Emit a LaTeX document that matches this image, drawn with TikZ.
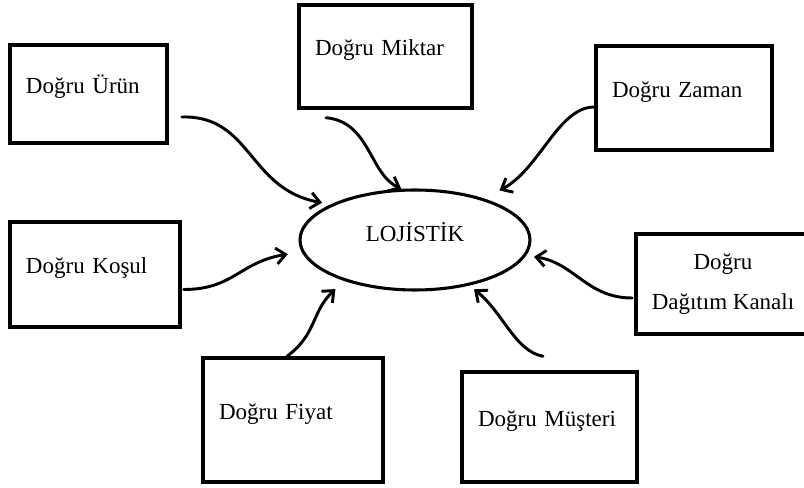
\documentclass[tikz,border=0pt]{standalone}
\usepackage{fontspec}
\setmainfont{Liberation Serif}
\usetikzlibrary{shapes.geometric, arrows.meta}

\begin{document}
\begin{tikzpicture}[x=0.75pt, y=-0.75pt, every node/.style={font=\fontsize{17.25}{21}\selectfont},
  kutu/.style={draw, line width=2.6pt, inner xsep=12pt},
  etiket/.style={kutu, align=left, text height=10pt, text depth=11pt},
  pil/.style={line width=2.2pt, line cap=round, -{Straight Barb[length=7pt,width=12pt]}}]
  \useasboundingbox (0,0) rectangle (804,488);
  \clip (0,0) rectangle (804,488);
  % Centre
  \node[ellipse, draw, line width=2.3pt, inner sep=0pt, minimum width=172.5pt, minimum height=75pt,
        text height=12pt, text depth=9pt] (lojistik) at (415,240) {LOJİSTİK};
  % Top row
  \node[etiket, minimum width=117.75pt, minimum height=73.5pt, text width=93.75pt] (urun) at (88.5,94) {Doğru~Ürün};
  \node[etiket, minimum width=129.75pt, minimum height=77.25pt, text width=105.75pt] (miktar) at (385.5,56.5) {Doğru~Miktar};
  \node[etiket, minimum width=132pt, minimum height=78pt, text width=108pt] (zaman) at (684,98) {Doğru~Zaman};
  % Middle row
  \node[etiket, minimum width=127.5pt, minimum height=78.75pt, text width=103.5pt] (kosul) at (95,274.5) {Doğru~Koşul};
  \node[kutu, align=center, minimum width=129pt, minimum height=75pt] (kanal) at (723,284) {Doğru\\[9pt]Dağıtım Kanalı};
  % Bottom row
  \node[etiket, minimum width=135pt, minimum height=93pt, text width=111pt] (fiyat) at (293,420) {Doğru~Fiyat};
  \node[etiket, minimum width=131.25pt, minimum height=82.5pt, text width=107.25pt] (musteri) at (549.5,427) {Doğru~Müşteri};
  % Arrows
  \draw[pil, shorten >=6.75pt] ([shift={(13,23)}]urun.east) .. controls +(70,-2) and +(-83,-15) .. (lojistik.157);
  \draw[pil] ([shift={(-59.5,8)}]miktar.south) .. controls +(44,4) and +(-32,-15) .. (lojistik.105);
  \draw[pil, shorten >=13pt] ([shift={(0,9)}]zaman.west) .. controls +(-36,0) and +(55.5,-29) .. (lojistik.31.5);
  \draw[pil, shorten >=10.5pt] ([shift={(2,15)}]kosul.east) .. controls +(50,0) and +(-62,10) .. (lojistik.186.5);
  \draw[pil, shorten >=6pt] ([shift={(-2,14)}]kanal.west) .. controls +(-45,0) and +(48,7) .. (lojistik.-8);
  \draw[pil, shorten >=9pt] ([shift={(-6,0)}]fiyat.north) .. controls +(30,-22) and +(-33,31) .. (lojistik.210);
  \draw[pil, shorten >=4.5pt] ([shift={(-6.5,-14)}]musteri.north) .. controls +(-28,-5) and +(33.6,26.6) .. (lojistik.-40);
\end{tikzpicture}
\end{document}
